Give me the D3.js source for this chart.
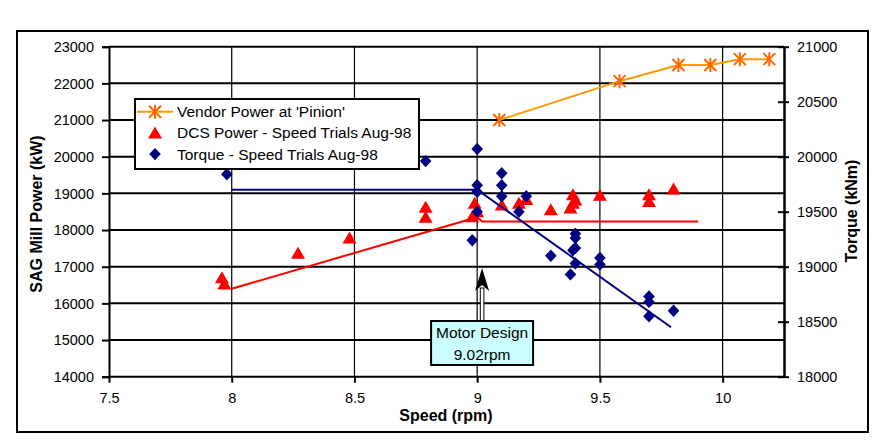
<!DOCTYPE html>
<html>
<head>
<meta charset="utf-8">
<script src="https://cdn.jsdelivr.net/npm/d3@7"></script>
<style>
  body { margin: 0; background: #fff; }
  svg text { font-family: "Liberation Sans", Arial, sans-serif; fill: #000; }
</style>
</head>
<body>
<div class="chart"></div>
<script>
// Data
var vendorSpeed = [9.09, 9.58, 9.82, 9.95, 10.07, 10.19],
    vendorPower = [21000, 22060, 22500, 22500, 22660, 22660];

var dcsSpeed = [7.96, 7.97, 8.27, 8.48, 8.79, 8.79, 8.99, 9.0, 8.98, 9.1, 9.17, 9.2, 9.3,
                9.39, 9.4, 9.39, 9.38, 9.5, 9.7, 9.7, 9.8],
    dcsPower = [16700, 16530, 17370, 17780, 18620, 18350, 18730, 18500, 18360, 18680, 18730, 18830, 18550,
                18960, 18820, 18730, 18600, 18950, 18960, 18780, 19120];

var torqueSpeed = [7.98, 8.79, 9.0, 9.0, 9.0, 9.0, 8.98, 9.1, 9.1, 9.1, 9.2, 9.17, 9.3,
                   9.4, 9.4, 9.39, 9.4, 9.4, 9.38, 9.5, 9.5, 9.7, 9.7, 9.7, 9.8],
    torqueValue = [19840, 19960, 20070, 19740, 19680, 19500, 19240, 19850, 19740, 19640, 19640, 19500, 19100,
                   19300, 19260, 19150, 19170, 19030, 18930, 19080, 19020, 18730, 18680, 18550, 18600];

// hand drawn trend lines
var powerTrendSpeed = [8.0, 9.0, 9.02, 9.9],
    powerTrendValue = [16400, 18350, 18230, 18230];
var torqueTrendSpeed = [8.0, 9.0, 9.79],
    torqueTrendValue = [19700, 19700, 18450];

var xTicks = [7.5, 8, 8.5, 9, 9.5, 10],
    powerTicks = [14000, 15000, 16000, 17000, 18000, 19000, 20000, 21000, 22000, 23000],
    torqueTicks = [18000, 18500, 19000, 19500, 20000, 20500, 21000];

var seriesNames = ["Vendor Power at 'Pinion'", "DCS Power - Speed Trials Aug-98", "Torque - Speed Trials Aug-98"];
var designSpeed = 9.02,
    designLabel = ["Motor Design", "9.02rpm"];

// Layout (plotTop etc, "top" is taken by window.top)
var width = 882,
  height = 445,
  plotLeft = 109, plotRight = 784, plotTop = 46.7, plotBottom = 376.7,
  vendorLine = "#ff9900",
  vendorMark = "#ff6600",
  dcsColor = "#ff0000",
  torqueColor = "#000080";

var x = d3.scaleLinear().domain([7.5, 10.25]).range([plotLeft, plotRight]),
  yP = d3.scaleLinear().domain([14000, 23000]).range([plotBottom, plotTop]),
  yT = d3.scaleLinear().domain([18000, 21000]).range([plotBottom, plotTop]);

var svg = d3.select(".chart").append("svg")
  .attr("width", width)
  .attr("height", height);

// outer frame
svg.append("rect")
  .attr("x", 17).attr("y", 31)
  .attr("width", 851).attr("height", 401)
  .attr("fill", "#fff").attr("stroke", "#000").attr("stroke-width", 2);

// vertical gridlines
svg.append("g").selectAll("line")
  .data(xTicks.slice(1))
  .enter().append("line")
    .attr("x1", function(d) { return x(d); }).attr("x2", function(d) { return x(d); })
    .attr("y1", plotTop).attr("y2", plotBottom)
    .attr("stroke", "#000").attr("stroke-width", 1.2);

// horizontal gridlines
svg.append("g").selectAll("line")
  .data(powerTicks)
  .enter().append("line")
    .attr("x1", plotLeft).attr("x2", plotRight)
    .attr("y1", function(d) { return yP(d); }).attr("y2", function(d) { return yP(d); })
    .attr("stroke", "#000").attr("stroke-width", 2);

// axes
svg.append("g")
  .attr("transform", "translate(" + plotLeft + ",0)")
  .call(d3.axisLeft(yP).tickValues(powerTicks).tickSize(7).tickPadding(8).tickFormat(d3.format("d")))
  .call(function(g) {
    g.select(".domain").attr("stroke-width", 2);
    g.selectAll(".tick line").attr("stroke-width", 2);
    g.selectAll("text").style("font-size", "14.5px");
  });

svg.append("g")
  .attr("transform", "translate(" + plotRight + ",0)")
  .call(d3.axisRight(yT).tickValues(torqueTicks).tickSizeInner(5).tickSizeOuter(0).tickPadding(8).tickFormat(d3.format("d")))
  .call(function(g) {
    g.select(".domain").attr("stroke-width", 2.5);
    g.selectAll(".tick line").attr("x1", -6).attr("stroke-width", 2);
    g.selectAll("text").style("font-size", "14.5px");
  });

svg.append("g")
  .attr("transform", "translate(0," + plotBottom + ")")
  .call(d3.axisBottom(x).tickValues(xTicks).tickSize(6).tickPadding(10).tickFormat(d3.format("")))
  .call(function(g) {
    g.select(".domain").remove();
    g.selectAll(".tick line").attr("stroke-width", 2);
    g.selectAll("text").style("font-size", "14.5px");
  });

// axis titles
svg.append("text")
  .attr("x", 446).attr("y", 421)
  .attr("text-anchor", "middle")
  .style("font-size", "16px").style("font-weight", "bold")
  .text("Speed (rpm)");

svg.append("text")
  .attr("transform", "translate(42,214) rotate(-90)")
  .attr("text-anchor", "middle")
  .style("font-size", "16px").style("font-weight", "bold")
  .text("SAG Mill Power (kW)");

svg.append("text")
  .attr("transform", "translate(857,211) rotate(-90)")
  .attr("text-anchor", "middle")
  .style("font-size", "16px").style("font-weight", "bold")
  .text("Torque (kNm)");

// marker shapes
var triPath = "M0,-6.5L7,5.5L-7,5.5Z",
    diaPath = "M0,-6.2L5.8,0L0,6.2L-5.8,0Z",
    starPath = "M-6,-6L6,6M-6,6L6,-6M0,-7L0,7";

var line = d3.line();

// DCS power trend line
svg.append("path")
  .attr("d", line(powerTrendSpeed.map(function(s, i) { return [x(s), yP(powerTrendValue[i])]; })))
  .attr("fill", "none").attr("stroke", dcsColor).attr("stroke-width", 2);

// DCS power triangles
svg.append("g").selectAll("path")
  .data(dcsSpeed)
  .enter().append("path")
    .attr("d", triPath)
    .attr("transform", function(d, i) { return "translate(" + x(d) + "," + yP(dcsPower[i]) + ")"; })
    .attr("fill", dcsColor);

// torque diamonds
svg.append("g").selectAll("path")
  .data(torqueSpeed)
  .enter().append("path")
    .attr("d", diaPath)
    .attr("transform", function(d, i) { return "translate(" + x(d) + "," + yT(torqueValue[i]) + ")"; })
    .attr("fill", torqueColor);

// torque trend line
svg.append("path")
  .attr("d", line(torqueTrendSpeed.map(function(s, i) { return [x(s), yT(torqueTrendValue[i])]; })))
  .attr("fill", "none").attr("stroke", torqueColor).attr("stroke-width", 2);

// vendor power
svg.append("path")
  .attr("d", line(vendorSpeed.map(function(s, i) { return [x(s), yP(vendorPower[i])]; })))
  .attr("fill", "none").attr("stroke", vendorLine).attr("stroke-width", 2);

svg.append("g").selectAll("path")
  .data(vendorSpeed)
  .enter().append("path")
    .attr("d", starPath)
    .attr("transform", function(d, i) { return "translate(" + x(d) + "," + yP(vendorPower[i]) + ")"; })
    .attr("fill", "none").attr("stroke", vendorMark).attr("stroke-width", 2);

// legend
var legend = svg.append("g").attr("transform", "translate(135,99)");
legend.append("rect")
  .attr("width", 284).attr("height", 70)
  .attr("fill", "#fff").attr("stroke", "#000").attr("stroke-width", 2);

var rows = legend.selectAll("g.row")
  .data(seriesNames)
  .enter().append("g")
    .attr("class", "row")
    .attr("transform", function(d, i) { return "translate(20," + (12.7 + i * 21.2) + ")"; });

rows.filter(function(d, i) { return i === 0; })
  .append("line")
    .attr("x1", -18).attr("x2", 18)
    .attr("stroke", vendorLine).attr("stroke-width", 2);

rows.append("path")
  .attr("d", function(d, i) { return [starPath, triPath, diaPath][i]; })
  .attr("fill", function(d, i) { return i === 0 ? "none" : [null, dcsColor, torqueColor][i]; })
  .attr("stroke", function(d, i) { return i === 0 ? vendorMark : "none"; })
  .attr("stroke-width", 2);

rows.append("text")
  .attr("x", 22).attr("dy", "0.36em")
  .style("font-size", "15.5px")
  .text(function(d) { return d; });

// Motor design annotation
var ax = x(designSpeed);
svg.append("rect")
  .attr("x", ax - 1.8).attr("y", 288)
  .attr("width", 3.6).attr("height", 33)
  .attr("fill", "#fff").attr("stroke", "#000").attr("stroke-width", 1);
svg.append("path")
  .attr("d", "M" + ax + ",268L" + (ax + 7) + ",291L" + ax + ",285L" + (ax - 7) + ",291Z")
  .attr("fill", "#000");

svg.append("rect")
  .attr("x", ax - 51).attr("y", 321)
  .attr("width", 102).attr("height", 44)
  .attr("fill", "#ccffff").attr("stroke", "#000").attr("stroke-width", 2);

svg.append("g").selectAll("text")
  .data(designLabel)
  .enter().append("text")
    .attr("x", ax).attr("y", function(d, i) { return 338 + i * 21.5; })
    .attr("text-anchor", "middle")
    .style("font-size", "15.5px")
    .text(function(d) { return d; });
</script>
</body>
</html>
